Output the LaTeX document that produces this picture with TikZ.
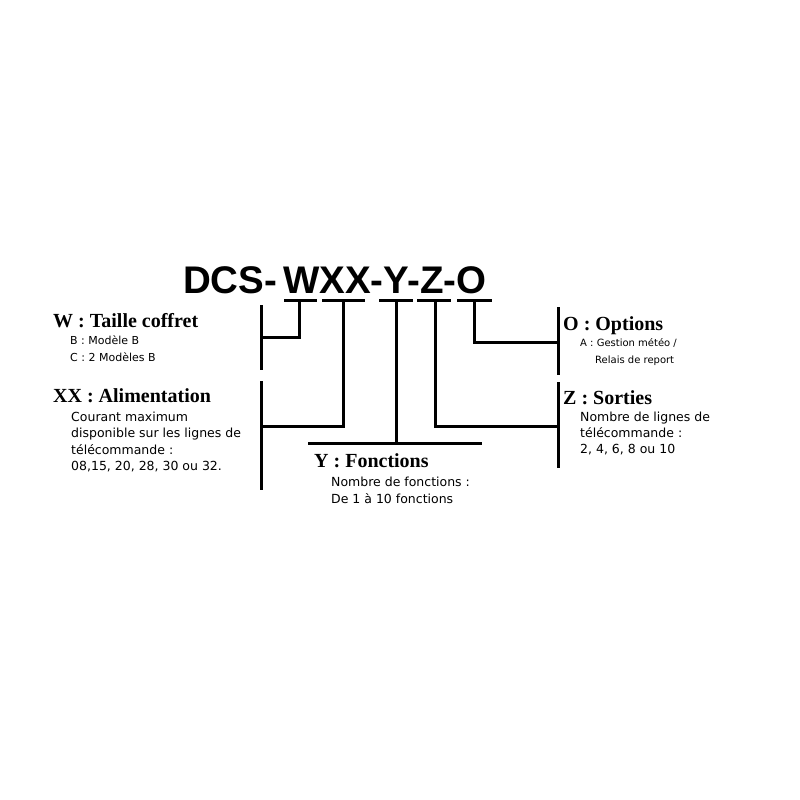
\documentclass[tikz,border=0pt]{standalone}
\usepackage{fontspec}
\setmainfont{DejaVu Sans}
\newfontfamily\hdrfont{Liberation Serif}
\newfontfamily\ttlfont{Liberation Sans}
\begin{document}
\begin{tikzpicture}[x=1pt,y=-1pt,
  ttl/.style={anchor=base west,inner sep=0pt,font=\ttlfont\bfseries\fontsize{38.5}{40}\selectfont},
  hdr/.style={anchor=base west,inner sep=0pt,font=\hdrfont\bfseries\fontsize{20}{22}\selectfont},
  bodyS/.style={anchor=base west,inner sep=0pt,font=\fontsize{#1}{#1}\selectfont},
  ln/.style={line width=3pt,line cap=butt,line join=miter},
  ul/.style={line width=3pt}]
\fill[white] (0,0) rectangle (800,800);
\useasboundingbox (0,0) rectangle (800,800);

% title
\node[ttl] (dcs) at (183,293) {DCS-};
\node[ttl] (code) at (283,293) {WXX-Y-Z-O};

% underline segments
\coordinate (wa) at (284,300.5); \coordinate (wb) at (317,300.5);
\coordinate (xa) at (322,300.5); \coordinate (xb) at (365,300.5);
\coordinate (ya) at (379,300.5); \coordinate (yb) at (413,300.5);
\coordinate (za) at (417,300.5); \coordinate (zb) at (451,300.5);
\coordinate (oa) at (457,300.5); \coordinate (ob) at (492,300.5);
\draw[ul] (wa) -- (wb);
\draw[ul] (xa) -- (xb);
\draw[ul] (ya) -- (yb);
\draw[ul] (za) -- (zb);
\draw[ul] (oa) -- (ob);

% stems
\coordinate (ws) at (299,300.5); \coordinate (wk) at (299,337); \coordinate (wl) at (261,337);
\coordinate (xs) at (343,300.5); \coordinate (xk) at (343,426); \coordinate (xl) at (261,426);
\coordinate (ys) at (396,300.5); \coordinate (yk) at (396,443);
\coordinate (zs) at (435,300.5); \coordinate (zk) at (435,426); \coordinate (zr) at (558,426);
\coordinate (os) at (474,300.5); \coordinate (ok) at (474,342); \coordinate (or) at (558,342);
\draw[ln] (ws) -- (wk) -- (wl);
\draw[ln] (xs) -- (xk) -- (xl);
\draw[ln] (ys) -- (yk);
\draw[ln] (zs) -- (zk) -- (zr);
\draw[ln] (os) -- (ok) -- (or);

% brackets
\coordinate (b1a) at (261,305); \coordinate (b1b) at (261,370);
\coordinate (b2a) at (261,381); \coordinate (b2b) at (261,490);
\coordinate (b3a) at (308,443); \coordinate (b3b) at (482,443);
\coordinate (b4a) at (558,307); \coordinate (b4b) at (558,375);
\coordinate (b5a) at (558,382); \coordinate (b5b) at (558,468);
\draw[ln] (b1a) -- (b1b);
\draw[ln] (b2a) -- (b2b);
\draw[ln] (b3a) -- (b3b);
\draw[ln] (b4a) -- (b4b);
\draw[ln] (b5a) -- (b5b);

% W
\node[hdr] (wh) at (53,327) {W : Taille coffret};
\node[bodyS=11] (w1) at (70,344) {B : Modèle B};
\node[bodyS=11] (w2) at (70,361) {C : 2 Modèles B};
% XX
\node[hdr] (xh) at (53,402) {XX : Alimentation};
\node[bodyS=12.5] (x1) at (71,421) {Courant maximum};
\node[bodyS=12.5] (x2) at (71,437) {disponible sur les lignes de};
\node[bodyS=12.5] (x3) at (71,454) {télécommande :};
\node[bodyS=12.5] (x4) at (71,470) {08,15, 20, 28, 30 ou 32.};
% Y
\node[hdr] (yh) at (314,467) {Y : Fonctions};
\node[bodyS=12.5] (y1) at (331,486) {Nombre de fonctions :};
\node[bodyS=12.5] (y2) at (331,503) {De 1 à 10 fonctions};
% O
\node[hdr] (oh) at (563,330) {O : Options};
\node[bodyS=10] (o1) at (580,346) {A : Gestion météo /};
\node[bodyS=10] (o2) at (595,363) {Relais de report};
% Z
\node[hdr] (zh) at (563,404) {Z : Sorties};
\node[bodyS=12.5] (z1) at (580,421) {Nombre de lignes de};
\node[bodyS=12.5] (z2) at (580,437) {télécommande :};
\node[bodyS=12.5] (z3) at (580,453) {2, 4, 6, 8 ou 10};
\end{tikzpicture}
\end{document}
